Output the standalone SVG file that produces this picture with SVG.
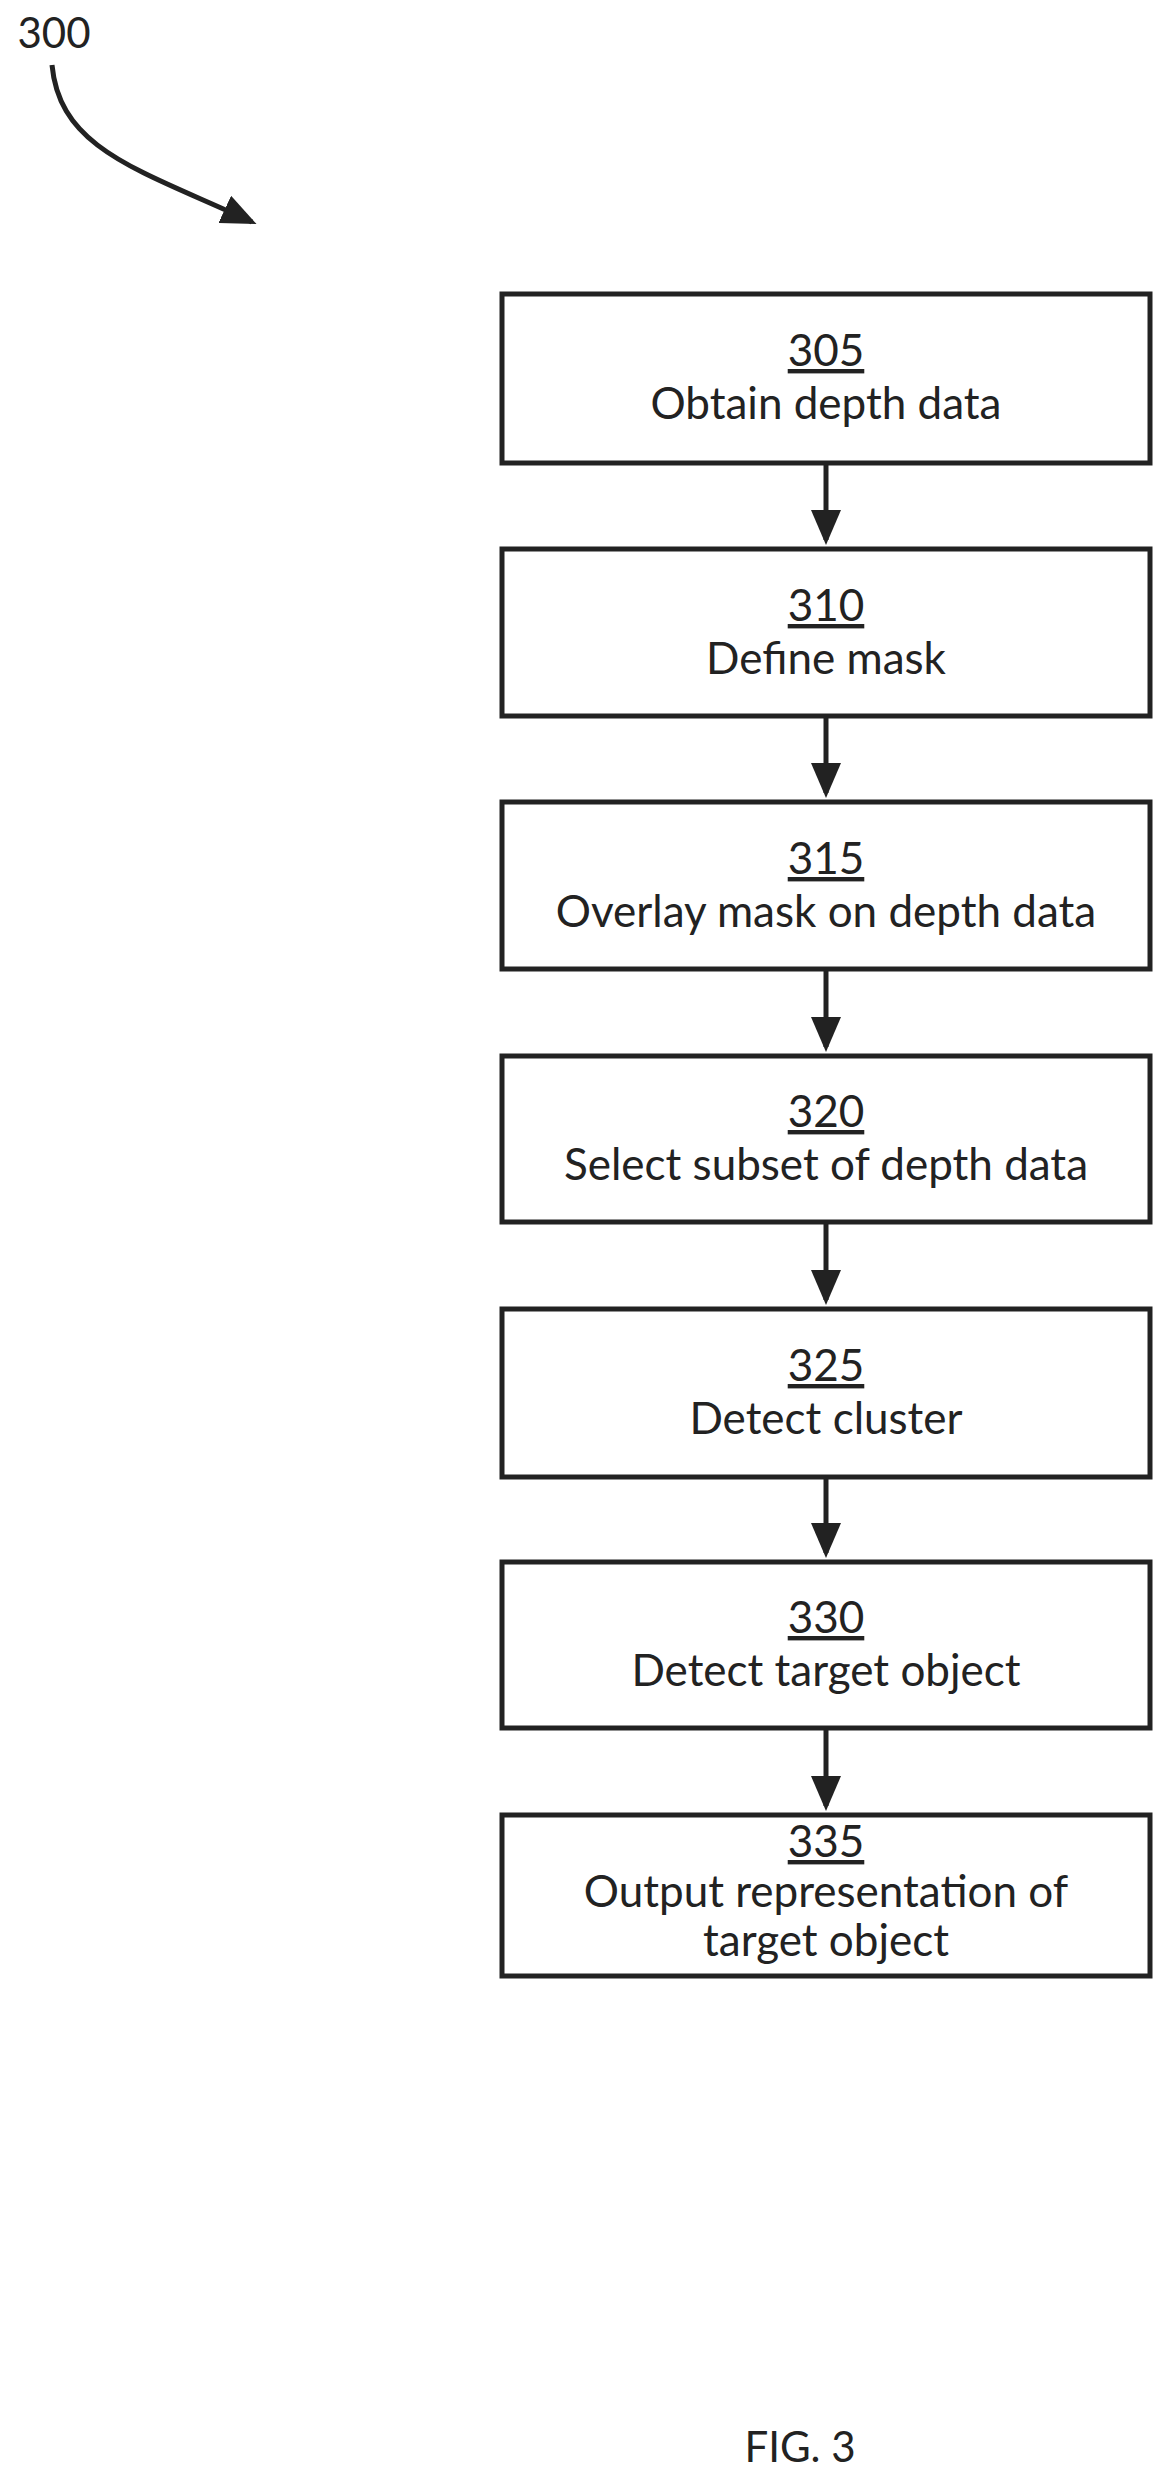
<svg xmlns="http://www.w3.org/2000/svg" width="1170" height="2485" viewBox="0 0 1170 2485">
<style>
.box{fill:#fff;stroke:#222;stroke-width:5}
.t{font-family:Lato,"Open Sans",sans-serif;font-size:44px;fill:#222;text-anchor:middle}
.n{text-decoration:underline}
.c{stroke:#222;stroke-width:5;fill:none}
</style>
<defs><marker id="a" markerWidth="7" markerHeight="6" refX="6" refY="3" orient="auto" markerUnits="strokeWidth"><path d="M0,0L7,3L0,6z" fill="#222"/></marker></defs>
<text class="t" x="54" y="48" style="font-size:42px">300</text>
<g id="connectors">
<path class="c" d="M52,65 C60,150 140,170 252,222" marker-end="url(#a)"/>
<line class="c" x1="826" y1="463" x2="826" y2="540" marker-end="url(#a)"/>
<line class="c" x1="826" y1="716" x2="826" y2="793" marker-end="url(#a)"/>
<line class="c" x1="826" y1="969" x2="826" y2="1047" marker-end="url(#a)"/>
<line class="c" x1="826" y1="1222" x2="826" y2="1300" marker-end="url(#a)"/>
<line class="c" x1="826" y1="1477" x2="826" y2="1553" marker-end="url(#a)"/>
<line class="c" x1="826" y1="1728" x2="826" y2="1806" marker-end="url(#a)"/>
</g>
<g id="n305"><rect class="box" x="502" y="294" width="648" height="169"/><text class="t n" x="826" y="366">305</text><text class="t" x="826" y="419">Obtain depth data</text></g>
<g id="n310"><rect class="box" x="502" y="549" width="648" height="167"/><text class="t n" x="826" y="621">310</text><text class="t" x="826" y="674">Define mask</text></g>
<g id="n315"><rect class="box" x="502" y="802" width="648" height="167"/><text class="t n" x="826" y="874">315</text><text class="t" x="826" y="927">Overlay mask on depth data</text></g>
<g id="n320"><rect class="box" x="502" y="1056" width="648" height="166"/><text class="t n" x="826" y="1127">320</text><text class="t" x="826" y="1180">Select subset of depth data</text></g>
<g id="n325"><rect class="box" x="502" y="1309" width="648" height="168"/><text class="t n" x="826" y="1381">325</text><text class="t" x="826" y="1434">Detect cluster</text></g>
<g id="n330"><rect class="box" x="502" y="1562" width="648" height="166"/><text class="t n" x="826" y="1633">330</text><text class="t" x="826" y="1686">Detect target object</text></g>
<g id="n335"><rect class="box" x="502" y="1815" width="648" height="161"/><text class="t n" x="826" y="1857">335</text><text class="t" x="826" y="1907">Output representation of</text><text class="t" x="826" y="1956">target object</text></g>
<text class="t" x="800" y="2462" style="font-size:42px">FIG. 3</text>
</svg>
